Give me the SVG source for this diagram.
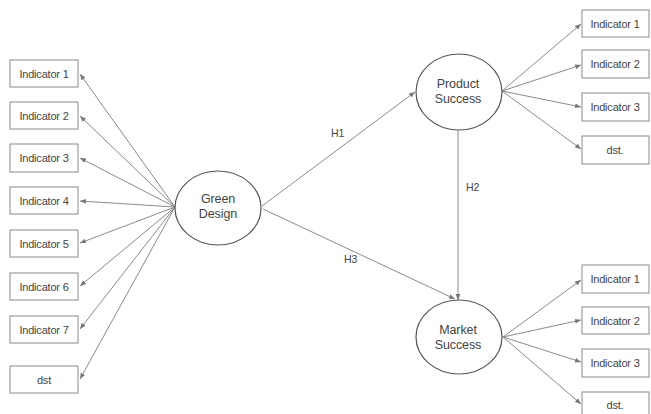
<svg xmlns="http://www.w3.org/2000/svg" width="651" height="414" viewBox="0 0 651 414">
<style>
.box{fill:#fff;stroke:#8a8a8a;stroke-width:1}
.ell{fill:#fff;stroke:#555;stroke-width:1.2}
.t{font-family:"Liberation Sans",Arial,sans-serif;font-size:11px;fill:#444;text-anchor:middle;letter-spacing:-0.2px}
.lt{font-family:"Liberation Sans",Arial,sans-serif;font-size:12.5px;fill:#444;text-anchor:middle;letter-spacing:-0.1px}
.lab{font-family:"Liberation Sans",Arial,sans-serif;font-size:10.5px;fill:#444}
.c{stroke:#8a8a8a;stroke-width:1;fill:none;marker-end:url(#ah)}
</style>
<defs>
<marker id="ah" viewBox="0 0 10 10" refX="10" refY="5" markerWidth="6" markerHeight="6" markerUnits="userSpaceOnUse" orient="auto">
<path d="M0,1 L10,5 L0,9 z" fill="#777"/>
</marker>
</defs>
<rect width="651" height="414" fill="#fff"/>
<g id="connectors">
<line class="c" x1="175" y1="207" x2="80" y2="74"/>
<line class="c" x1="175" y1="207" x2="80" y2="116"/>
<line class="c" x1="175" y1="207" x2="80" y2="158"/>
<line class="c" x1="175" y1="207" x2="80" y2="201"/>
<line class="c" x1="175" y1="207" x2="80" y2="243"/>
<line class="c" x1="175" y1="207" x2="80" y2="286"/>
<line class="c" x1="175" y1="207" x2="80" y2="329"/>
<line class="c" x1="175" y1="207" x2="80" y2="379"/>
<line class="c" x1="262" y1="206" x2="415" y2="92"/>
<line class="c" x1="458" y1="130" x2="458" y2="300"/>
<line class="c" x1="263" y1="209" x2="455" y2="299"/>
<line class="c" x1="502" y1="91" x2="581" y2="24"/>
<line class="c" x1="502" y1="91" x2="581" y2="65"/>
<line class="c" x1="502" y1="91" x2="581" y2="107"/>
<line class="c" x1="502" y1="91" x2="581" y2="149"/>
<line class="c" x1="503" y1="337" x2="581" y2="280"/>
<line class="c" x1="503" y1="337" x2="581" y2="320"/>
<line class="c" x1="503" y1="337" x2="581" y2="362"/>
<line class="c" x1="503" y1="337" x2="581" y2="404"/>
<text class="lab" x="331" y="137">H1</text>
<text class="lab" x="466" y="191">H2</text>
<text class="lab" x="344" y="263">H3</text>
</g>
<g id="gd"><ellipse class="ell" cx="218" cy="208" rx="43" ry="37"/><text class="lt" x="218" y="202.5">Green</text><text class="lt" x="218" y="218">Design</text></g>
<g id="ps"><ellipse class="ell" cx="459" cy="92" rx="43" ry="38"/><text class="lt" x="458" y="87.5">Product</text><text class="lt" x="458" y="102.5">Success</text></g>
<g id="ms"><ellipse class="ell" cx="459" cy="337" rx="43" ry="37"/><text class="lt" x="458" y="333.5">Market</text><text class="lt" x="458" y="349">Success</text></g>
<g id="l1"><rect class="box" x="10" y="60" width="68" height="27"/><text class="t" x="44" y="77.5">Indicator 1</text></g>
<g id="l2"><rect class="box" x="10" y="102" width="68" height="27"/><text class="t" x="44" y="119.5">Indicator 2</text></g>
<g id="l3"><rect class="box" x="10" y="144" width="68" height="28"/><text class="t" x="44" y="162">Indicator 3</text></g>
<g id="l4"><rect class="box" x="10" y="187" width="68" height="27"/><text class="t" x="44" y="204.5">Indicator 4</text></g>
<g id="l5"><rect class="box" x="10" y="230" width="68" height="27"/><text class="t" x="44" y="247.5">Indicator 5</text></g>
<g id="l6"><rect class="box" x="10" y="273" width="68" height="27"/><text class="t" x="44" y="290.5">Indicator 6</text></g>
<g id="l7"><rect class="box" x="10" y="316" width="68" height="27"/><text class="t" x="44" y="333.5">Indicator 7</text></g>
<g id="l8"><rect class="box" x="10" y="366" width="68" height="27"/><text class="t" x="44" y="383.5">dst</text></g>
<g id="p1"><rect class="box" x="582" y="10" width="67" height="27"/><text class="t" x="615" y="27.5">Indicator 1</text></g>
<g id="p2"><rect class="box" x="582" y="50" width="67" height="28"/><text class="t" x="615" y="68">Indicator 2</text></g>
<g id="p3"><rect class="box" x="582" y="93" width="67" height="28"/><text class="t" x="615" y="111">Indicator 3</text></g>
<g id="p4"><rect class="box" x="582" y="136" width="67" height="28"/><text class="t" x="615" y="154">dst.</text></g>
<g id="m1"><rect class="box" x="582" y="265" width="67" height="28"/><text class="t" x="615" y="283">Indicator 1</text></g>
<g id="m2"><rect class="box" x="582" y="307" width="67" height="27"/><text class="t" x="615" y="324.5">Indicator 2</text></g>
<g id="m3"><rect class="box" x="582" y="349" width="67" height="28"/><text class="t" x="615" y="367">Indicator 3</text></g>
<g id="m4"><rect class="box" x="582" y="392" width="67" height="28"/><text class="t" x="615" y="409">dst.</text></g>
</svg>
